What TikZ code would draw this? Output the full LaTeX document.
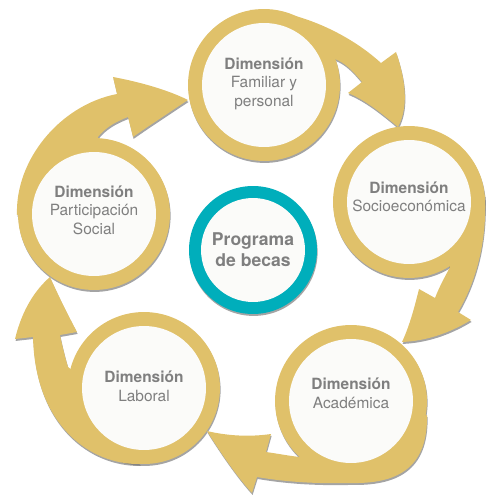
\documentclass[tikz,border=0pt]{standalone}
\usepackage{fontspec}
\setmainfont{TeX Gyre Heros}
\usetikzlibrary{shadows}

\definecolor{oro}{HTML}{E0C16A}
\definecolor{turquesa}{HTML}{00AEBB}
\definecolor{texto}{HTML}{7F7F7F}
\definecolor{blanco}{HTML}{FBFBF9}

\tikzset{
	sombra/.style={drop shadow={shadow xshift=0.35pt, shadow yshift=-1.1pt, opacity=0.65, fill=black!55}},
	flecha/.style={fill=oro, sombra},
	rotulo/.style={text=texto, align=center, font=\fontsize{8.8}{10.5}\selectfont},
	dimension/.style={circle, fill=oro, minimum size=3.04cm, inner sep=0pt,
		path picture={\fill[blanco] (path picture bounding box.center) circle (1.24cm);}},
	centro/.style={circle, fill=turquesa, minimum size=2.56cm, inner sep=0pt, sombra,
		text=texto, align=center, font=\fontsize{10}{12}\selectfont\bfseries,
		path picture={\fill[blanco] (path picture bounding box.center) circle (1.04cm);}}
}

\begin{document}
\begin{tikzpicture}[x=0.02cm, y=-0.02cm]
	
	\useasboundingbox (0,0) rectangle (500,500);
	
	% sombras de los circulos, debajo de las flechas
	\foreach \c in {(264,85),(409,202),(351,401),(144,388),(94,214)}
		\fill[black!55, opacity=0.65, xshift=0.35pt, yshift=-1.1pt] \c circle (1.52cm);
	
	% flechas del ciclo
	\fill[flecha] (250,10) .. controls (290,8) and (345,30) .. (381,63) -- (396,52)
		.. controls (404,75) and (410,105) .. (398,127)
		.. controls (380,112) and (365,100) .. (348,93) -- (362,82)
		.. controls (352,70) and (345,63) .. (335,59) -- (300,60) -- cycle;
	
	\fill[flecha] (485,195) .. controls (487,240) and (477,280) .. (458,312) -- (471,320)
		.. controls (448,334) and (425,341) .. (402,342)
		.. controls (410,325) and (415,305) .. (419,289) -- (435,298)
		.. controls (440,285) and (446,275) .. (450,267) -- (420,235) -- cycle;
	
	\fill[flecha] (427,415) .. controls (428,470) and (395,484) .. (350,483)
		.. controls (310,484) and (280,481) .. (257,477) -- (252,493)
		.. controls (238,478) and (220,452) .. (207,431)
		.. controls (228,436) and (250,437) .. (271,434) -- (266,452)
		.. controls (280,454) and (290,456) .. (300,457) -- (350,440) -- cycle;
	
	\fill[flecha] (140,464) .. controls (90,465) and (35,425) .. (33,337) -- (15,339)
		.. controls (22,310) and (35,290) .. (50,277)
		.. controls (58,295) and (68,315) .. (77,332) -- (60,335)
		.. controls (62,345) and (65,357) .. (68,367) -- (120,410) -- cycle;
	
	\fill[flecha] (17,215) .. controls (15,160) and (60,105) .. (117,94) -- (113,77)
		.. controls (140,82) and (168,90) .. (188,100)
		.. controls (170,112) and (150,125) .. (133,137) -- (128,117)
		.. controls (115,122) and (105,128) .. (98,137) -- (94,180) -- cycle;
	
	% dimensiones
	\node[dimension, label={[rotulo, yshift=0.03cm]center:{\textbf{Dimensión}\\Familiar y\\personal}}] (familiar) at (264,85) {};
	\node[dimension, label={[rotulo, yshift=0.1cm]center:{\textbf{Dimensión}\\Socioeconómica}}] (socio) at (409,202) {};
	\node[dimension, label={[rotulo, yshift=0.15cm]center:{\textbf{Dimensión}\\Académica}}] (academica) at (351,401) {};
	\node[dimension, label={[rotulo, yshift=0.03cm]center:{\textbf{Dimensión}\\Laboral}}] (laboral) at (144,388) {};
	\node[dimension, label={[rotulo, yshift=0.08cm]center:{\textbf{Dimensión}\\Participación\\Social}}] (social) at (94,214) {};
	
	\node[centro] (becas) at (253,250) {Programa\\de becas};

\end{tikzpicture}
\end{document}
